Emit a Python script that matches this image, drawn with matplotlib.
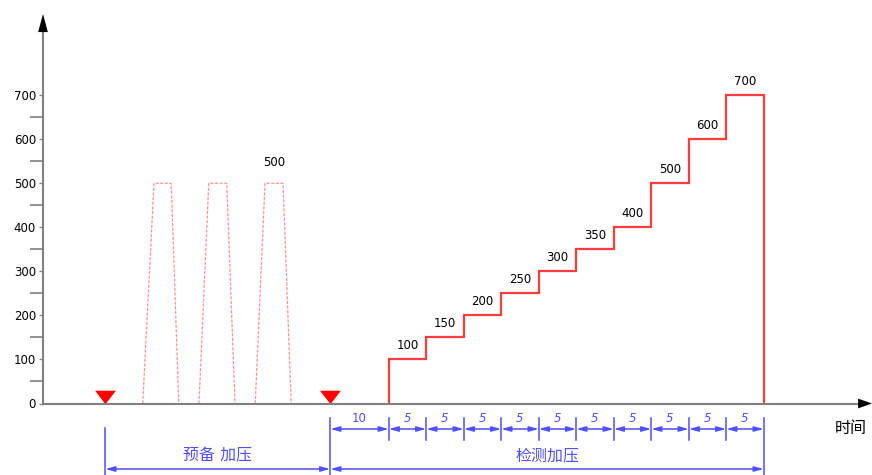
import numpy as np
import matplotlib
matplotlib.use("Agg")
import matplotlib.pyplot as plt

plt.rcParams['font.family'] = ['DejaVu Sans', 'Noto Sans CJK SC']

# values (time in arbitrary schematic units)
y_major = [0, 100, 200, 300, 400, 500, 600, 700]
y_minor = [50, 150, 250, 350, 450, 550, 650]

pre_peak = 500
pre_cycles = [
    [13.3, 14.8, 17.1, 18.1],
    [20.8, 22.1, 24.5, 25.6],
    [28.3, 29.6, 32.0, 33.1],
]
marker_times = [8.3, 38.3]

step_start = 46.1
step_len = 5
step_loads = [100, 150, 200, 250, 300, 350, 400, 500, 600, 700]

seg_labels = ['10', '5', '5', '5', '5', '5', '5', '5', '5', '5', '5']
phase_labels = ['预备 加压', '检测加压']
x_label = '时间'

# pixel layout helpers
PX_X = 7.5      # px per time unit
X0 = 43         # px of time 0
PX_Y = 0.4404   # px per load unit
Y0 = 403.5      # px of load 0
W, H = 872, 475


def py(p):
    return (Y0 - p) / PX_Y


def px(p):
    return (p - X0) / PX_X


red = '#ff3c3c'
blue = '#5050ff'
gray = '#808080'

fig = plt.figure(figsize=(W / 100, H / 100), dpi=100)
ax = fig.add_axes([0, 0, 1, 1])
ax.set_xlim(px(0), px(W))
ax.set_ylim(py(H), py(0))

# axes
for s in ['top', 'right']:
    ax.spines[s].set_visible(False)
ax.spines['left'].set_position(('data', 0))
ax.spines['bottom'].set_position(('data', 0))
ax.spines['left'].set_bounds(0, py(30))
ax.spines['bottom'].set_bounds(0, px(860))
for s in ['left', 'bottom']:
    ax.spines[s].set_color(gray)
    ax.spines[s].set_linewidth(1.5)
ax.set_xticks([])
ax.set_yticks(y_major)
ax.set_yticks(y_minor, minor=True)
ax.tick_params(axis='y', which='major', length=3, width=0.9, color=gray,
               pad=2, labelsize=8.5)
ax.tick_params(axis='y', which='minor', length=9.5, width=1.2, color=gray)

# arrow heads
ax.annotate('', xy=(0, py(14)), xytext=(0, py(34)),
            arrowprops=dict(arrowstyle='-|>,head_length=1.3,head_width=0.35',
                            color='black', lw=0, shrinkA=0, shrinkB=0,
                            mutation_scale=10))
ax.annotate('', xy=(px(872), 0), xytext=(px(850), 0),
            arrowprops=dict(arrowstyle='-|>,head_length=1.0,head_width=0.35',
                            color='black', lw=0, shrinkA=0, shrinkB=0,
                            mutation_scale=10))
ax.text(px(851), py(428), x_label, fontsize=11.5, ha='center', va='center')

# pre-loading cycles
for c in pre_cycles:
    ax.plot(c, [0, pre_peak, pre_peak, 0], color='#ff5a5a', lw=0.9,
            ls=(0, (2.5, 1.2)), alpha=0.65)
last = pre_cycles[-1]
ax.text((last[1] + last[2]) / 2, pre_peak + 48, str(pre_peak), fontsize=8.5,
        ha='center', va='center')

# markers
tri = [(-1, 0.65), (1, 0.65), (0, -0.65)]
ax.plot(marker_times, [py(396.5)] * len(marker_times), ls='none',
        marker=tri, ms=15, color='#ff0000', mec='none')

# detection staircase
edges = step_start + step_len * np.arange(len(step_loads) + 1)
ax.stairs(step_loads, edges, baseline=0, color=red, lw=1.6)
for i, v in enumerate(step_loads):
    ax.text((edges[i] + edges[i + 1]) / 2, v + 32, str(v), fontsize=8.5,
            ha='center', va='center')

# dimension lines
bounds = np.concatenate([[marker_times[1]], edges])
arrow = dict(arrowstyle='<|-|>,head_length=0.55,head_width=0.15', color=blue,
             lw=1.1, shrinkA=0, shrinkB=0, mutation_scale=10)
y_dim = py(429)
for a, b, lab in zip(bounds[:-1], bounds[1:], seg_labels):
    ax.annotate('', xy=(a, y_dim), xytext=(b, y_dim), arrowprops=arrow)
    ax.text((a + b) / 2, py(418), lab, color=blue, fontsize=8.5,
            ha='center', va='center', style='italic' if lab == '5' else 'normal')
for b in bounds[1:-1]:
    ax.plot([b, b], [py(418), py(440)], color=blue, lw=1.1)

y_ph = py(469)
phase_bounds = [marker_times[0], marker_times[1], edges[-1]]
for a, b, lab in zip(phase_bounds[:-1], phase_bounds[1:], phase_labels):
    ax.annotate('', xy=(a, y_ph), xytext=(b, y_ph), arrowprops=arrow)
    ax.text((a + b) / 2, py(456), lab, color=blue, fontsize=11.5,
            ha='center', va='center')
ax.plot([marker_times[0]] * 2, [py(428), py(476)], color=blue, lw=1.1)
ax.plot([marker_times[1]] * 2, [py(418), py(476)], color=blue, lw=1.1)
ax.plot([edges[-1]] * 2, [py(418), py(476)], color=blue, lw=1.1)

fig.savefig('out.png', dpi=100)
